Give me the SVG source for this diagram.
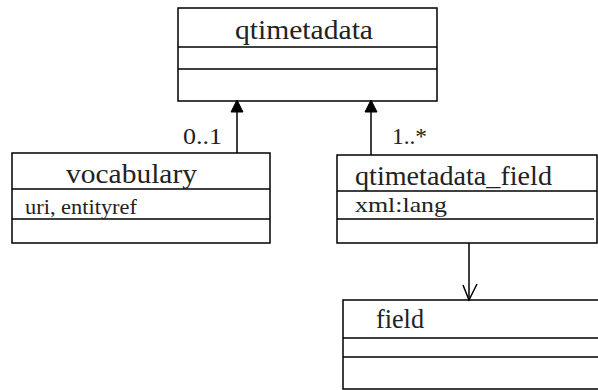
<svg xmlns="http://www.w3.org/2000/svg" width="598" height="390" viewBox="0 0 598 390">
<style>
.box{fill:#fff;stroke:#000;stroke-width:1.5}
.ln{stroke:#000;stroke-width:1.5;fill:none}
.t{font-family:"Liberation Serif",serif;fill:#222}
.name{font-size:28px}
.attr{font-size:22px}
.lbl{font-size:23px}
</style>
<rect width="598" height="390" fill="#fff"/>
<g id="qtimetadata">
<rect class="box" x="178" y="8" width="259" height="93"/>
<line class="ln" x1="178" y1="47" x2="437" y2="47"/>
<line class="ln" x1="178" y1="69" x2="437" y2="69"/>
<text class="t name" x="235" y="39" textLength="138" lengthAdjust="spacingAndGlyphs">qtimetadata</text>
</g>
<g id="vocabulary">
<rect class="box" x="12" y="153" width="258" height="90"/>
<line class="ln" x1="12" y1="189" x2="270" y2="189"/>
<line class="ln" x1="12" y1="219" x2="270" y2="219"/>
<text class="t name" x="66" y="183" textLength="131" lengthAdjust="spacingAndGlyphs">vocabulary</text>
<text class="t attr" x="25" y="214" textLength="112" lengthAdjust="spacingAndGlyphs">uri, entityref</text>
</g>
<g id="qtimetadata_field">
<rect class="box" x="337" y="155" width="260" height="88"/>
<line class="ln" x1="337" y1="191" x2="597" y2="191"/>
<line class="ln" x1="337" y1="219" x2="594" y2="219"/>
<text class="t name" x="355" y="185" textLength="197" lengthAdjust="spacingAndGlyphs">qtimetadata_field</text>
<text class="t attr" x="355" y="212" textLength="92" lengthAdjust="spacingAndGlyphs">xml:lang</text>
</g>
<g id="field">
<path class="ln" d="M599 300 H343 V389 H599"/>
<line class="ln" x1="343" y1="338" x2="599" y2="338"/>
<line class="ln" x1="343" y1="357" x2="599" y2="357"/>
<text class="t name" x="376" y="328" textLength="48" lengthAdjust="spacingAndGlyphs">field</text>
</g>
<g id="connectors">
<line class="ln" x1="237" y1="112" x2="237" y2="153"/>
<polygon points="237,100 231,112 243,112" fill="#000" stroke="#000" stroke-width="1"/>
<text class="t lbl" x="183" y="144" textLength="39" lengthAdjust="spacingAndGlyphs">0..1</text>
<line class="ln" x1="371" y1="112" x2="371" y2="155"/>
<polygon points="371,100 365,112 377,112" fill="#000" stroke="#000" stroke-width="1"/>
<text class="t lbl" x="392" y="144" textLength="35" lengthAdjust="spacingAndGlyphs">1..*</text>
<line class="ln" x1="469" y1="243" x2="469" y2="300"/>
<polyline class="ln" points="463,285 469,300 477,284"/>
</g>
</svg>
